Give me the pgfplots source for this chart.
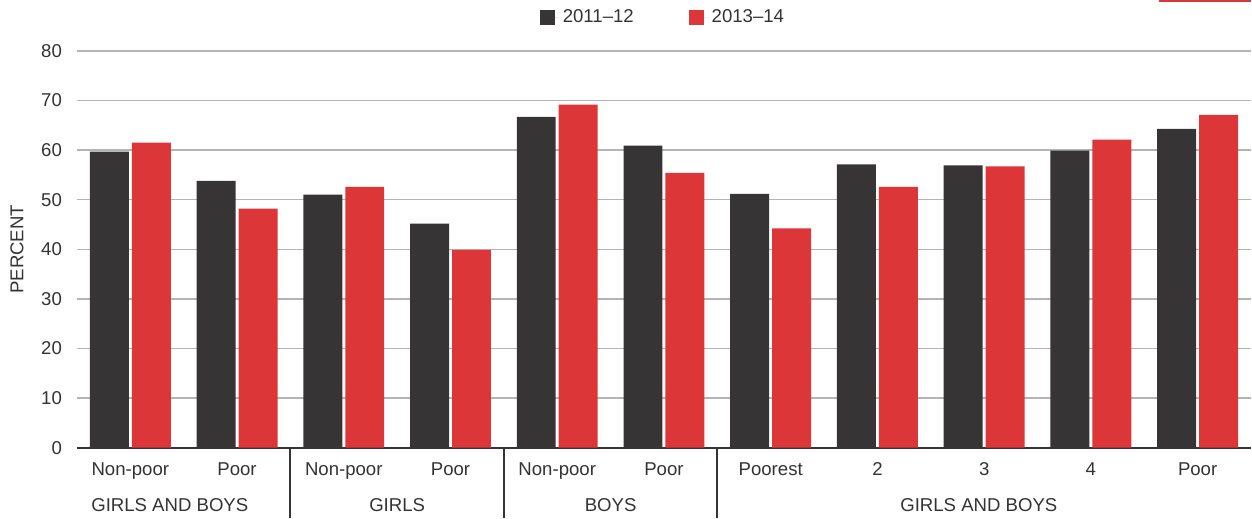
\documentclass[border=0pt]{standalone}
\usepackage{fontspec}
\setmainfont{Liberation Sans}
\usepackage{pgfplots}
\usepackage{pgfplotstable}
\pgfplotsset{compat=1.18}

\definecolor{bardark}{RGB}{54,52,53}
\definecolor{barred}{RGB}{220,54,56}
\definecolor{txt}{RGB}{51,51,51}
\definecolor{gridgray}{RGB}{180,180,180}

% x = category index, a = 2011-12, b = 2013-14
\pgfplotstableread{
x  a     b
0  59.7  61.5
1  53.8  48.2
2  51.0  52.6
3  45.2  39.9
4  66.7  69.2
5  60.9  55.4
6  51.2  44.2
7  57.1  52.6
8  56.9  56.7
9  59.9  62.1
10 64.3  67.1
}\datatable

\newcommand{\lbl}{\fontsize{9.3}{11}\selectfont}

\begin{document}
\begin{tikzpicture}
\begin{axis}[
    width=587.5pt, height=198.5pt, scale only axis,
    ybar=1.5pt, bar width=19.5pt,
    xmin=-0.5, xmax=10.5, ymin=0, ymax=80,
    ytick={0,10,...,80},
    xtick={0,...,10},
    xticklabels={Non-poor,Poor,Non-poor,Poor,Non-poor,Poor,Poorest,2,3,4,Poor},
    major tick length=0pt,
    axis x line*=bottom, axis y line*=left,
    y axis line style={draw=none},
    x axis line style={color=bardark, line width=1pt},
    ymajorgrids, grid style={gridgray, line width=0.7pt},
    /pgf/number format/assume math mode=true,
    tick label style={font=\lbl, text=txt},
    yticklabel style={xshift=-4pt},
    xticklabel shift=4pt,
    ylabel={PERCENT},
    y label style={font=\lbl, text=txt, at={(axis description cs:-0.051,0.5)}, anchor=center},
    legend columns=2,
    legend style={draw=none, fill=none, font=\lbl, text=txt,
        at={(axis description cs:0.5,1)}, anchor=center, yshift=16.5pt,
        /tikz/every even column/.append style={column sep=25.5pt}},
    legend image code/.code={\fill[#1] (0pt,-3.75pt) rectangle (7.5pt,3.75pt);
        \path (0pt,0pt) -- (9.5pt,0pt);},
    clip=false,
]
\addplot[fill=bardark, draw=none] table[x=x, y=a] {\datatable};
\addplot[fill=barred, draw=none] table[x=x, y=b] {\datatable};
\legend{2011--12, 2013--14}

% group separators and group labels
\draw[bardark, line width=1pt] (axis cs:1.5,0) -- ++(0pt,-35pt);
\draw[bardark, line width=1pt] (axis cs:3.5,0) -- ++(0pt,-35pt);
\draw[bardark, line width=1pt] (axis cs:5.5,0) -- ++(0pt,-35pt);
\node[font=\lbl, text=txt] at ([yshift=-29pt]axis cs:0.37,0) {GIRLS AND BOYS};
\node[font=\lbl, text=txt] at ([yshift=-29pt]axis cs:2.5,0) {GIRLS};
\node[font=\lbl, text=txt] at ([yshift=-29pt]axis cs:4.5,0) {BOYS};
\node[font=\lbl, text=txt] at ([yshift=-29pt]axis cs:7.95,0) {GIRLS AND BOYS};

% red rule at top right
\fill[barred] (rel axis cs:1,1) ++(-46pt,25.5pt) rectangle ++(46pt,-1.2pt);
\path (rel axis cs:0,0) -- ++(-38.5pt,0pt);
\end{axis}
\end{tikzpicture}
\end{document}
